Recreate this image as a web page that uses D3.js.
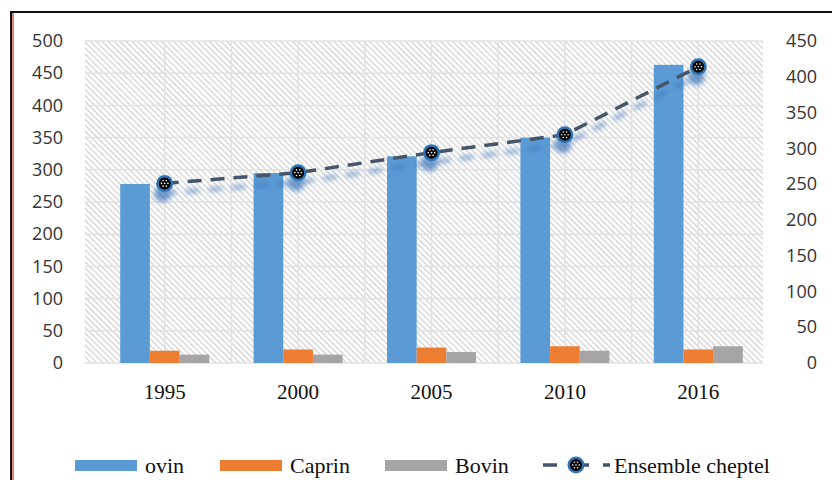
<!DOCTYPE html>
<html>
<head>
<meta charset="utf-8">
<script src="https://cdn.jsdelivr.net/npm/d3@7"></script>
<style>
  html, body { margin: 0; padding: 0; background: #fff; }
  svg { display: block; }
</style>
</head>
<body>
<svg id="chart" width="832" height="480"></svg>
<script>
// Livestock counts by year (bars on the left axis, total herd on the right axis)
const years = ["1995", "2000", "2005", "2010", "2016"];
const ovin = [278, 295, 321, 350, 463];
const caprin = [19, 21, 24, 26, 21];
const bovin = [13, 13, 17, 19, 26];
const ensemble = [251, 266, 294, 319, 414];

const leftTicks = [0, 50, 100, 150, 200, 250, 300, 350, 400, 450, 500];
const rightTicks = [0, 50, 100, 150, 200, 250, 300, 350, 400, 450];

const seriesNames = ["ovin", "Caprin", "Bovin"];
const seriesColors = ["#5B9BD5", "#ED7D31", "#A5A5A5"];
const lineName = "Ensemble cheptel";

const svg = d3.select("#chart");

const plot = { left: 85, right: 763, top: 41, bottom: 363 };

const x = d3.scaleBand().domain(years).range([98, 765]);
const yL = d3.scaleLinear().domain([0, 500]).range([plot.bottom, plot.top]);
const yR = d3.scaleLinear().domain([0, 450]).range([plot.bottom, plot.top]);
const inner = d3.scaleBand().domain(seriesNames).range([-44.5, 44.5]);

const defs = svg.append("defs");

// diagonal hatch fill of the plot area
const pat = defs.append("pattern")
  .attr("id", "hatch")
  .attr("patternUnits", "userSpaceOnUse")
  .attr("width", 4.2).attr("height", 4.2)
  .attr("patternTransform", "rotate(-45)");
pat.append("rect").attr("width", 4.2).attr("height", 4.2).attr("fill", "#ffffff");
pat.append("line").attr("x1", 1).attr("y1", 0).attr("x2", 1).attr("y2", 4.2)
  .attr("stroke", "#d0d0d0").attr("stroke-width", 1.2);

// soft drop shadow under the total line
const f = defs.append("filter").attr("id", "shadow")
  .attr("x", "-20%").attr("y", "-50%").attr("width", "140%").attr("height", "250%");
f.append("feGaussianBlur").attr("in", "SourceAlpha").attr("stdDeviation", 2.4).attr("result", "b");
f.append("feOffset").attr("in", "b").attr("dx", -2).attr("dy", 10).attr("result", "o");
f.append("feFlood").attr("flood-color", "#3a72b8").attr("flood-opacity", 0.7);
f.append("feComposite").attr("in2", "o").attr("operator", "in").attr("result", "s");
const fm = f.append("feMerge");
fm.append("feMergeNode").attr("in", "s");
fm.append("feMergeNode").attr("in", "SourceGraphic");

// frame
svg.append("line").attr("x1", 11).attr("y1", 12).attr("x2", 832).attr("y2", 12)
  .attr("stroke", "#111").attr("stroke-width", 2);
svg.append("line").attr("x1", 11).attr("y1", 11).attr("x2", 11).attr("y2", 480)
  .attr("stroke", "#111").attr("stroke-width", 2);
svg.append("line").attr("x1", 13).attr("y1", 13).attr("x2", 13).attr("y2", 480)
  .attr("stroke", "#c00000").attr("stroke-width", 1);

// plot background
svg.append("rect")
  .attr("x", plot.left).attr("y", plot.top)
  .attr("width", plot.right - plot.left).attr("height", plot.bottom - plot.top)
  .attr("fill", "url(#hatch)");

// horizontal gridlines
svg.append("g").selectAll("line").data(leftTicks).join("line")
  .attr("x1", plot.left).attr("x2", plot.right)
  .attr("y1", d => yL(d)).attr("y2", d => yL(d))
  .attr("stroke", "#e2e2e2").attr("stroke-width", 1.5);

// vertical gridlines at category centres and boundaries
const vLines = [];
years.forEach(y => { vLines.push(x(y) + x.bandwidth() / 2); vLines.push(x(y) + x.bandwidth()); });
svg.append("g").selectAll("line").data(vLines.filter(v => v < plot.right)).join("line")
  .attr("x1", d => d).attr("x2", d => d)
  .attr("y1", plot.top).attr("y2", plot.bottom)
  .attr("stroke", "#e2e2e2").attr("stroke-width", 1.5);

// bars
const seriesData = [ovin, caprin, bovin];
seriesNames.forEach((name, si) => {
  svg.append("g").selectAll("rect").data(years).join("rect")
    .attr("x", (d, i) => x(d) + x.bandwidth() / 2 + inner(name))
    .attr("width", inner.bandwidth())
    .attr("y", (d, i) => yL(seriesData[si][i]))
    .attr("height", (d, i) => yL(0) - yL(seriesData[si][i]))
    .attr("fill", seriesColors[si]);
});

// axis labels
const axisFont = "'Open Sans', 'Liberation Sans', sans-serif";
const yAxisL = d3.axisLeft(yL).tickValues(leftTicks).tickSize(0).tickPadding(0);
const gL = svg.append("g").attr("transform", "translate(63,0)").call(yAxisL);
gL.select(".domain").remove();
gL.selectAll("text").attr("font-family", axisFont).attr("font-size", 18).attr("fill", "#333");

const yAxisR = d3.axisRight(yR).tickValues(rightTicks).tickSize(0).tickPadding(0);
const gR = svg.append("g").attr("transform", "translate(785,0)").call(yAxisR);
gR.select(".domain").remove();
gR.selectAll("text").attr("font-family", axisFont).attr("font-size", 18).attr("fill", "#333")
  .attr("text-anchor", "end").attr("dx", 32);

const xAxis = d3.axisBottom(x).tickSize(0).tickPadding(0);
const gX = svg.append("g").attr("transform", "translate(0,392)").call(xAxis);
gX.select(".domain").remove();
gX.selectAll("text").attr("font-family", "'Liberation Serif', 'Times New Roman', serif")
  .attr("font-size", 21).attr("fill", "#111").attr("dy", "0.32em");

// total herd line with markers
const cx = (d, i) => x(years[i]) + x.bandwidth() / 2;
const line = d3.line().x(cx).y(d => yR(d));
const lg = svg.append("g").attr("filter", "url(#shadow)");
lg.append("path").datum(ensemble)
  .attr("d", line)
  .attr("fill", "none")
  .attr("stroke", "#44546A").attr("stroke-width", 3.5)
  .attr("stroke-dasharray", "14,9");

function marker(g, px, py) {
  g.append("circle").attr("cx", px).attr("cy", py).attr("r", 8.5).attr("fill", "#2E75B6");
  g.append("circle").attr("cx", px).attr("cy", py).attr("r", 6).attr("fill", "#000");
  d3.range(6).forEach(k => {
    const a = k * Math.PI / 3;
    g.append("circle").attr("cx", px + 3.2 * Math.cos(a)).attr("cy", py + 3.2 * Math.sin(a))
      .attr("r", 0.8).attr("fill", "#fff");
  });
  g.append("circle").attr("cx", px).attr("cy", py).attr("r", 0.8).attr("fill", "#fff");
}
ensemble.forEach((d, i) => marker(lg, cx(d, i), yR(d)));

// legend
const legendY = 465;
const legendFont = "'Liberation Serif', 'Times New Roman', serif";
const legendItems = [
  { name: seriesNames[0], color: seriesColors[0], x: 75 },
  { name: seriesNames[1], color: seriesColors[1], x: 220 },
  { name: seriesNames[2], color: seriesColors[2], x: 385 }
];
const leg = svg.append("g");
legendItems.forEach(it => {
  leg.append("rect").attr("x", it.x).attr("y", legendY - 5).attr("width", 62).attr("height", 11)
    .attr("fill", it.color);
  leg.append("text").attr("x", it.x + 70).attr("y", legendY).attr("dy", "0.35em")
    .attr("font-family", legendFont).attr("font-size", 22).attr("fill", "#111")
    .text(it.name);
});
const ll = leg.append("g");
ll.append("line").attr("x1", 543).attr("x2", 557).attr("y1", legendY).attr("y2", legendY)
  .attr("stroke", "#44546A").attr("stroke-width", 3.5);
ll.append("line").attr("x1", 583).attr("x2", 589).attr("y1", legendY).attr("y2", legendY)
  .attr("stroke", "#44546A").attr("stroke-width", 3.5);
ll.append("line").attr("x1", 603).attr("x2", 610).attr("y1", legendY).attr("y2", legendY)
  .attr("stroke", "#44546A").attr("stroke-width", 3.5);
marker(ll, 576, legendY);
leg.append("text").attr("x", 614).attr("y", legendY).attr("dy", "0.35em")
  .attr("font-family", legendFont).attr("font-size", 22).attr("fill", "#111")
  .text(lineName);
</script>
</body>
</html>
